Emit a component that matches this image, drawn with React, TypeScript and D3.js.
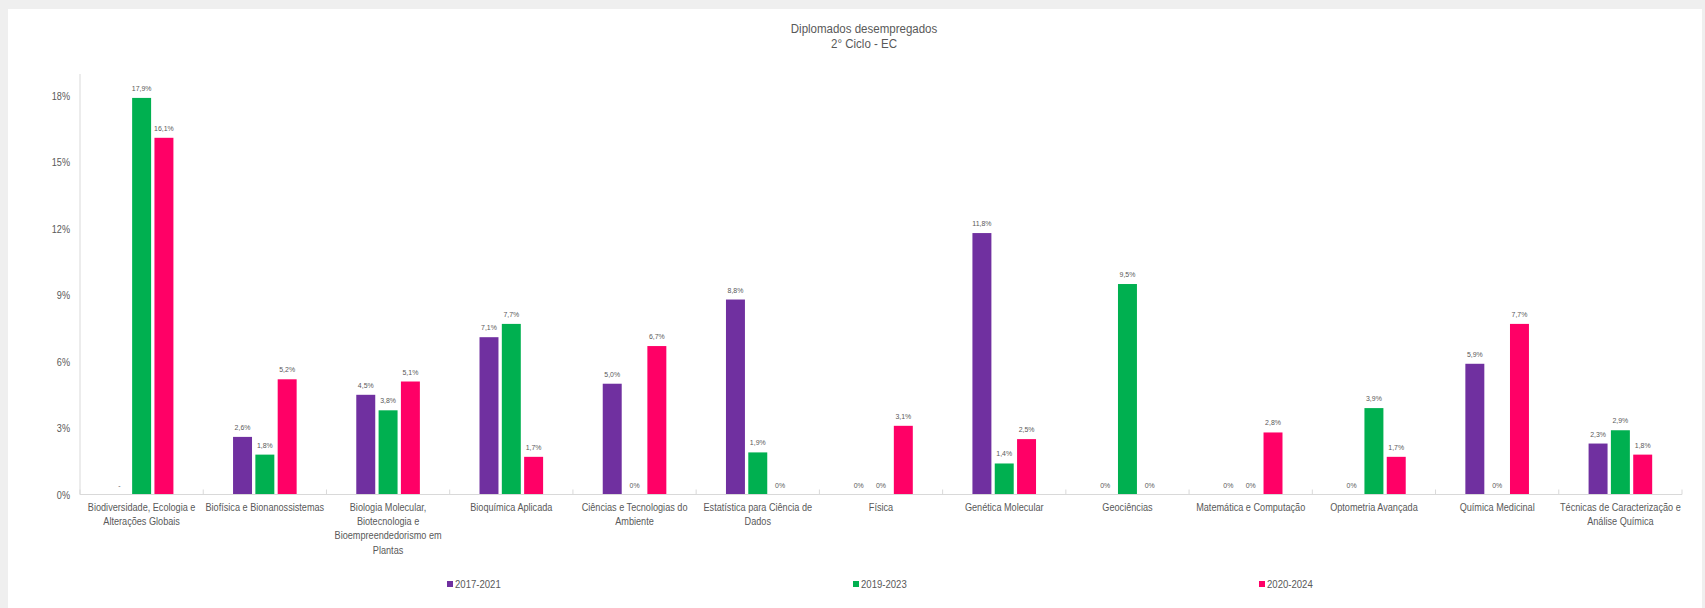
import React from "react";
import * as d3 from "d3";

const categories: string[][] = [
  ["Biodiversidade, Ecologia e", "Alterações Globais"],
  ["Biofísica e Bionanossistemas"],
  ["Biologia Molecular,", "Biotecnologia e", "Bioempreendedorismo em", "Plantas"],
  ["Bioquímica Aplicada"],
  ["Ciências e Tecnologias do", "Ambiente"],
  ["Estatística para Ciência de", "Dados"],
  ["Física"],
  ["Genética Molecular"],
  ["Geociências"],
  ["Matemática e Computação"],
  ["Optometria Avançada"],
  ["Química Medicinal"],
  ["Técnicas de Caracterização e", "Análise Química"],
];

const seriesNames = ["2017-2021", "2019-2023", "2020-2024"];
const seriesColors = ["#7030A0", "#00B050", "#FF0066"];

const s2017: (number | null)[] = [null, 2.6, 4.5, 7.1, 5.0, 8.8, 0, 11.8, 0, 0, 0, 5.9, 2.3];
const s2019: (number | null)[] = [17.9, 1.8, 3.8, 7.7, 0, 1.9, 0, 1.4, 9.5, 0, 3.9, 0, 2.9];
const s2020: (number | null)[] = [16.1, 5.2, 5.1, 1.7, 6.7, 0, 3.1, 2.5, 0, 2.8, 1.7, 7.7, 1.8];

const yTicks = [0, 3, 6, 9, 12, 15, 18];
const title = ["Diplomados desempregados", "2° Ciclo - EC"];

const FONT = "'Liberation Sans', Arial, sans-serif";
const TEXT = "#595959";
const SX = 0.87;

type NTProps = {
  x: number;
  y: number;
  size: number;
  anchor?: "start" | "middle" | "end";
  lines: string[];
  lh?: number;
  sx?: number;
};

function NT({ x, y, size, anchor = "start", lines, lh = 14.2, sx = SX }: NTProps) {
  return (
    <text transform={`translate(${x},${y}) scale(${sx},1)`} fontSize={size} textAnchor={anchor} fill={TEXT}>
      {lines.map((ln, i) => (
        <tspan key={i} x={0} y={i * lh}>{ln}</tspan>
      ))}
    </text>
  );
}

export default function App() {
  const W = 1705;
  const H = 608;
  const left = 80;
  const right = 1682;
  const base = 494.5;
  const top = 74;
  const allSeries = [s2017, s2019, s2020];
  const ids = categories.map((_, i) => String(i));

  const x = d3.scaleBand<string>().domain(ids).range([left, right]).padding(0);
  const inner = d3.scaleBand<string>().domain(seriesNames).range([-31.8, 31.8]).paddingInner(0.15);
  const y = d3.scaleLinear().domain([0, 18]).range([base, 95.7]);
  const yMax = y.invert(top);
  const fmt = (v: number) => (v === 0 ? "0%" : d3.format(".1f")(v).replace(".", ",") + "%");

  const legendX = d3.scalePoint<string>().domain(seriesNames).range([450, 1262]);

  return (
    <svg width={W} height={H} style={{ position: "absolute", left: 0, top: 0 }} fontFamily={FONT}>
      <rect x={0} y={0} width={W} height={H} fill="#efefef" />
      <rect x={8} y={9} width={W - 11} height={H - 9} fill="#ffffff" />
      {/* title */}
      <NT x={864} y={33} size={12} anchor="middle" lines={[title[0]]} sx={0.96} />
      <NT x={864} y={47.5} size={12} anchor="middle" lines={[title[1]]} sx={0.96} />
      {/* y axis */}
      <line x1={left} x2={left} y1={y(yMax)} y2={base} stroke="#d9d9d9" strokeWidth={1} />
      {yTicks.map((t) => (
        <NT key={t} x={70} y={y(t) + 4} size={10.5} anchor="end" lines={[`${t}%`]} />
      ))}
      {/* bars */}
      {allSeries.map((ser, si) =>
        ser.map((v, ci) => {
          const cx = (x(String(ci)) as number) + x.bandwidth() / 2 + (inner(seriesNames[si]) as number);
          const bw = inner.bandwidth();
          if (v === null) {
            return <NT key={`${si}-${ci}`} x={cx + bw / 2} y={base - 7} size={8} anchor="middle" lines={["-"]} />;
          }
          return (
            <g key={`${si}-${ci}`}>
              {v > 0 && <rect x={cx} y={y(v)} width={bw} height={base - y(v)} fill={seriesColors[si]} />}
              <NT x={cx + bw / 2} y={y(v) - 7} size={8} anchor="middle" lines={[fmt(v)]} />
            </g>
          );
        })
      )}
      {/* x axis */}
      <line x1={left} x2={right} y1={base} y2={base} stroke="#d9d9d9" strokeWidth={1} />
      {ids.concat([String(ids.length)]).map((id, i) => {
        const tx = left + i * x.step();
        return <line key={`t${i}`} x1={tx} x2={tx} y1={base - 5} y2={base} stroke="#d9d9d9" strokeWidth={1} />;
      })}
      {categories.map((lines, ci) => (
        <NT
          key={`c${ci}`}
          x={(x(String(ci)) as number) + x.bandwidth() / 2}
          y={511}
          size={10.5}
          anchor="middle"
          lines={lines}
        />
      ))}
      {/* legend */}
      {seriesNames.map((s, si) => {
        const lx = legendX(s) as number;
        return (
          <g key={s}>
            <rect x={lx - 3} y={581} width={6} height={6} fill={seriesColors[si]} />
            <NT x={lx + 5} y={588} size={11} lines={[s]} />
          </g>
        );
      })}
    </svg>
  );
}
